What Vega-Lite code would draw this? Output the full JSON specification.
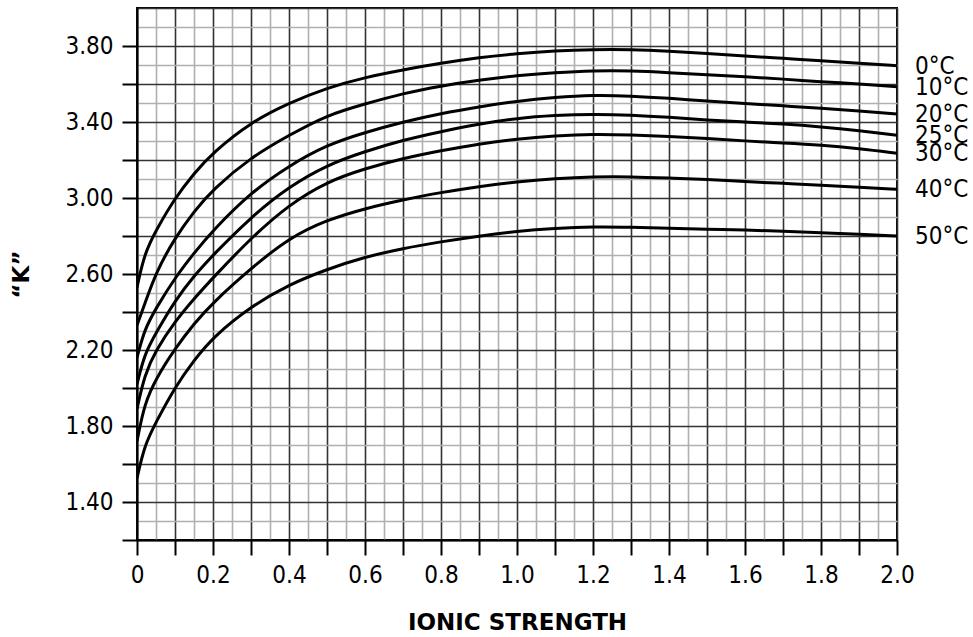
{
  "$schema": "https://vega.github.io/schema/vega-lite/v6.json",
  "width": 760,
  "height": 532,
  "autosize": {"type": "none"},
  "padding": {"left": 137, "top": 8, "right": 76, "bottom": 97},
  "background": "white",
  "config": {
    "view": {"stroke": "black", "strokeWidth": 2},
    "font": "DejaVu Sans Condensed"
  },
  "data": {
    "values": [
      {"t": "0°C", "x": 0, "k": 2.53}, {"t": "0°C", "x": 0.02, "k": 2.71}, {"t": "0°C", "x": 0.05, "k": 2.83}, {"t": "0°C", "x": 0.1, "k": 3.0}, {"t": "0°C", "x": 0.15, "k": 3.13}, {"t": "0°C", "x": 0.2, "k": 3.24}, {"t": "0°C", "x": 0.3, "k": 3.4}, {"t": "0°C", "x": 0.4, "k": 3.5}, {"t": "0°C", "x": 0.5, "k": 3.58}, {"t": "0°C", "x": 0.6, "k": 3.635}, {"t": "0°C", "x": 0.7, "k": 3.674}, {"t": "0°C", "x": 0.8, "k": 3.71}, {"t": "0°C", "x": 0.9, "k": 3.74}, {"t": "0°C", "x": 1.0, "k": 3.76}, {"t": "0°C", "x": 1.1, "k": 3.775}, {"t": "0°C", "x": 1.2, "k": 3.782}, {"t": "0°C", "x": 1.3, "k": 3.782}, {"t": "0°C", "x": 1.4, "k": 3.773}, {"t": "0°C", "x": 1.5, "k": 3.76}, {"t": "0°C", "x": 1.6, "k": 3.747}, {"t": "0°C", "x": 1.7, "k": 3.735}, {"t": "0°C", "x": 1.8, "k": 3.723}, {"t": "0°C", "x": 1.9, "k": 3.71}, {"t": "0°C", "x": 2.0, "k": 3.696},
      {"t": "10°C", "x": 0, "k": 2.33}, {"t": "10°C", "x": 0.02, "k": 2.44}, {"t": "10°C", "x": 0.05, "k": 2.61}, {"t": "10°C", "x": 0.1, "k": 2.79}, {"t": "10°C", "x": 0.15, "k": 2.93}, {"t": "10°C", "x": 0.2, "k": 3.046}, {"t": "10°C", "x": 0.3, "k": 3.215}, {"t": "10°C", "x": 0.4, "k": 3.33}, {"t": "10°C", "x": 0.5, "k": 3.437}, {"t": "10°C", "x": 0.6, "k": 3.495}, {"t": "10°C", "x": 0.7, "k": 3.551}, {"t": "10°C", "x": 0.8, "k": 3.59}, {"t": "10°C", "x": 0.9, "k": 3.62}, {"t": "10°C", "x": 1.0, "k": 3.645}, {"t": "10°C", "x": 1.1, "k": 3.66}, {"t": "10°C", "x": 1.2, "k": 3.67}, {"t": "10°C", "x": 1.3, "k": 3.67}, {"t": "10°C", "x": 1.4, "k": 3.66}, {"t": "10°C", "x": 1.5, "k": 3.648}, {"t": "10°C", "x": 1.6, "k": 3.638}, {"t": "10°C", "x": 1.7, "k": 3.626}, {"t": "10°C", "x": 1.8, "k": 3.612}, {"t": "10°C", "x": 1.9, "k": 3.6}, {"t": "10°C", "x": 2.0, "k": 3.586},
      {"t": "20°C", "x": 0, "k": 2.16}, {"t": "20°C", "x": 0.02, "k": 2.31}, {"t": "20°C", "x": 0.05, "k": 2.42}, {"t": "20°C", "x": 0.1, "k": 2.58}, {"t": "20°C", "x": 0.15, "k": 2.71}, {"t": "20°C", "x": 0.2, "k": 2.83}, {"t": "20°C", "x": 0.3, "k": 3.03}, {"t": "20°C", "x": 0.4, "k": 3.17}, {"t": "20°C", "x": 0.5, "k": 3.28}, {"t": "20°C", "x": 0.6, "k": 3.345}, {"t": "20°C", "x": 0.7, "k": 3.4}, {"t": "20°C", "x": 0.8, "k": 3.445}, {"t": "20°C", "x": 0.9, "k": 3.48}, {"t": "20°C", "x": 1.0, "k": 3.51}, {"t": "20°C", "x": 1.1, "k": 3.53}, {"t": "20°C", "x": 1.2, "k": 3.542}, {"t": "20°C", "x": 1.3, "k": 3.537}, {"t": "20°C", "x": 1.4, "k": 3.525}, {"t": "20°C", "x": 1.5, "k": 3.51}, {"t": "20°C", "x": 1.6, "k": 3.498}, {"t": "20°C", "x": 1.7, "k": 3.485}, {"t": "20°C", "x": 1.8, "k": 3.472}, {"t": "20°C", "x": 1.9, "k": 3.458}, {"t": "20°C", "x": 2.0, "k": 3.442},
      {"t": "25°C", "x": 0, "k": 2.02}, {"t": "25°C", "x": 0.02, "k": 2.18}, {"t": "25°C", "x": 0.05, "k": 2.29}, {"t": "25°C", "x": 0.1, "k": 2.46}, {"t": "25°C", "x": 0.15, "k": 2.59}, {"t": "25°C", "x": 0.2, "k": 2.7}, {"t": "25°C", "x": 0.3, "k": 2.9}, {"t": "25°C", "x": 0.4, "k": 3.06}, {"t": "25°C", "x": 0.5, "k": 3.174}, {"t": "25°C", "x": 0.6, "k": 3.245}, {"t": "25°C", "x": 0.7, "k": 3.305}, {"t": "25°C", "x": 0.8, "k": 3.35}, {"t": "25°C", "x": 0.9, "k": 3.39}, {"t": "25°C", "x": 1.0, "k": 3.42}, {"t": "25°C", "x": 1.1, "k": 3.435}, {"t": "25°C", "x": 1.2, "k": 3.442}, {"t": "25°C", "x": 1.3, "k": 3.437}, {"t": "25°C", "x": 1.4, "k": 3.425}, {"t": "25°C", "x": 1.5, "k": 3.41}, {"t": "25°C", "x": 1.6, "k": 3.4}, {"t": "25°C", "x": 1.7, "k": 3.39}, {"t": "25°C", "x": 1.8, "k": 3.375}, {"t": "25°C", "x": 1.9, "k": 3.355}, {"t": "25°C", "x": 2.0, "k": 3.33},
      {"t": "30°C", "x": 0, "k": 1.89}, {"t": "30°C", "x": 0.02, "k": 2.07}, {"t": "30°C", "x": 0.05, "k": 2.2}, {"t": "30°C", "x": 0.1, "k": 2.35}, {"t": "30°C", "x": 0.15, "k": 2.47}, {"t": "30°C", "x": 0.2, "k": 2.58}, {"t": "30°C", "x": 0.3, "k": 2.79}, {"t": "30°C", "x": 0.4, "k": 2.965}, {"t": "30°C", "x": 0.5, "k": 3.086}, {"t": "30°C", "x": 0.6, "k": 3.155}, {"t": "30°C", "x": 0.7, "k": 3.209}, {"t": "30°C", "x": 0.8, "k": 3.25}, {"t": "30°C", "x": 0.9, "k": 3.285}, {"t": "30°C", "x": 1.0, "k": 3.31}, {"t": "30°C", "x": 1.1, "k": 3.327}, {"t": "30°C", "x": 1.2, "k": 3.337}, {"t": "30°C", "x": 1.3, "k": 3.332}, {"t": "30°C", "x": 1.4, "k": 3.325}, {"t": "30°C", "x": 1.5, "k": 3.314}, {"t": "30°C", "x": 1.6, "k": 3.3}, {"t": "30°C", "x": 1.7, "k": 3.29}, {"t": "30°C", "x": 1.8, "k": 3.279}, {"t": "30°C", "x": 1.9, "k": 3.26}, {"t": "30°C", "x": 2.0, "k": 3.235},
      {"t": "40°C", "x": 0, "k": 1.72}, {"t": "40°C", "x": 0.02, "k": 1.92}, {"t": "40°C", "x": 0.05, "k": 2.05}, {"t": "40°C", "x": 0.1, "k": 2.207}, {"t": "40°C", "x": 0.15, "k": 2.339}, {"t": "40°C", "x": 0.2, "k": 2.45}, {"t": "40°C", "x": 0.3, "k": 2.63}, {"t": "40°C", "x": 0.4, "k": 2.79}, {"t": "40°C", "x": 0.5, "k": 2.885}, {"t": "40°C", "x": 0.6, "k": 2.945}, {"t": "40°C", "x": 0.7, "k": 2.99}, {"t": "40°C", "x": 0.8, "k": 3.03}, {"t": "40°C", "x": 0.9, "k": 3.06}, {"t": "40°C", "x": 1.0, "k": 3.085}, {"t": "40°C", "x": 1.1, "k": 3.102}, {"t": "40°C", "x": 1.2, "k": 3.112}, {"t": "40°C", "x": 1.3, "k": 3.112}, {"t": "40°C", "x": 1.4, "k": 3.105}, {"t": "40°C", "x": 1.5, "k": 3.098}, {"t": "40°C", "x": 1.6, "k": 3.086}, {"t": "40°C", "x": 1.7, "k": 3.077}, {"t": "40°C", "x": 1.8, "k": 3.068}, {"t": "40°C", "x": 1.9, "k": 3.057}, {"t": "40°C", "x": 2.0, "k": 3.046},
      {"t": "50°C", "x": 0, "k": 1.525}, {"t": "50°C", "x": 0.02, "k": 1.7}, {"t": "50°C", "x": 0.05, "k": 1.82}, {"t": "50°C", "x": 0.1, "k": 2.005}, {"t": "50°C", "x": 0.15, "k": 2.146}, {"t": "50°C", "x": 0.2, "k": 2.268}, {"t": "50°C", "x": 0.3, "k": 2.43}, {"t": "50°C", "x": 0.4, "k": 2.545}, {"t": "50°C", "x": 0.5, "k": 2.625}, {"t": "50°C", "x": 0.6, "k": 2.69}, {"t": "50°C", "x": 0.7, "k": 2.735}, {"t": "50°C", "x": 0.8, "k": 2.77}, {"t": "50°C", "x": 0.9, "k": 2.8}, {"t": "50°C", "x": 1.0, "k": 2.825}, {"t": "50°C", "x": 1.1, "k": 2.84}, {"t": "50°C", "x": 1.2, "k": 2.849}, {"t": "50°C", "x": 1.3, "k": 2.846}, {"t": "50°C", "x": 1.4, "k": 2.84}, {"t": "50°C", "x": 1.5, "k": 2.835}, {"t": "50°C", "x": 1.6, "k": 2.832}, {"t": "50°C", "x": 1.7, "k": 2.825}, {"t": "50°C", "x": 1.8, "k": 2.817}, {"t": "50°C", "x": 1.9, "k": 2.81}, {"t": "50°C", "x": 2.0, "k": 2.8}
    ]
  },
  "encoding": {
    "x": {
      "field": "x", "type": "quantitative",
      "scale": {"domain": [0, 2], "nice": false, "zero": false},
      "axis": {
        "values": [0, 0.05, 0.1, 0.15, 0.2, 0.25, 0.3, 0.35, 0.4, 0.45, 0.5, 0.55, 0.6, 0.65, 0.7, 0.75, 0.8, 0.85, 0.9, 0.95, 1.0, 1.05, 1.1, 1.15, 1.2, 1.25, 1.3, 1.35, 1.4, 1.45, 1.5, 1.55, 1.6, 1.65, 1.7, 1.75, 1.8, 1.85, 1.9, 1.95, 2.0],
        "title": "IONIC STRENGTH",
        "titleFont": "DejaVu Sans", "titleFontWeight": "bold", "titleFontSize": 23, "titleColor": "black", "titlePadding": 24,
        "labelExpr": "abs(round(datum.value*5) - datum.value*5) < 0.001 ? (datum.value == 0 ? '0' : format(datum.value, '.1f')) : ''",
        "labelFont": "DejaVu Sans Condensed", "labelFontSize": 24, "labelColor": "black", "labelPadding": 8, "labelFlush": false, "labelOverlap": false,
        "tickSize": 15, "tickWidth": 2,
        "tickColor": {"condition": {"test": "abs(round(datum.value*10) - datum.value*10) < 0.001", "value": "black"}, "value": "transparent"},
        "domainColor": "black", "domainWidth": 2,
        "grid": true, "gridWidth": 1.6, "gridOpacity": 1,
        "gridColor": {"condition": {"test": "abs(round(datum.value*10) - datum.value*10) < 0.001", "value": "#333333"}, "value": "#b0b0b0"}
      }
    },
    "y": {
      "field": "k", "type": "quantitative",
      "scale": {"domain": [1.2, 4.0], "nice": false, "zero": false},
      "axis": {
        "values": [1.2, 1.3, 1.4, 1.5, 1.6, 1.7, 1.8, 1.9, 2.0, 2.1, 2.2, 2.3, 2.4, 2.5, 2.6, 2.7, 2.8, 2.9, 3.0, 3.1, 3.2, 3.3, 3.4, 3.5, 3.6, 3.7, 3.8, 3.9, 4.0],
        "title": "“K”",
        "titleFont": "DejaVu Sans", "titleFontWeight": "bold", "titleFontSize": 23, "titleColor": "black", "titlePadding": 31,
        "labelExpr": "abs(round((datum.value - 1.4)/0.4) - (datum.value - 1.4)/0.4) < 0.001 ? format(datum.value, '.2f') : ''",
        "labelFont": "DejaVu Sans Condensed", "labelFontSize": 24, "labelColor": "black", "labelPadding": 9, "labelOverlap": false, "labelFlush": false,
        "tickSize": 15, "tickWidth": 2,
        "tickColor": {"condition": {"test": "abs(round(datum.value*5) - datum.value*5) < 0.001 && datum.value < 3.95", "value": "black"}, "value": "transparent"},
        "domainColor": "black", "domainWidth": 2,
        "grid": true, "gridWidth": 1.6, "gridOpacity": 1,
        "gridColor": {"condition": {"test": "abs(round(datum.value*5) - datum.value*5) < 0.001", "value": "#333333"}, "value": "#b0b0b0"}
      }
    }
  },
  "layer": [
    {
      "mark": {"type": "line", "interpolate": "basis", "color": "black", "strokeWidth": 3, "clip": true},
      "encoding": {"detail": {"field": "t"}}
    },
    {
      "transform": [{"filter": "datum.x == 2"}],
      "mark": {"type": "text", "align": "left", "baseline": "middle", "dx": 18, "dy": 1, "font": "DejaVu Sans Condensed", "fontSize": 24, "color": "black"},
      "encoding": {"text": {"field": "t"}}
    }
  ]
}
